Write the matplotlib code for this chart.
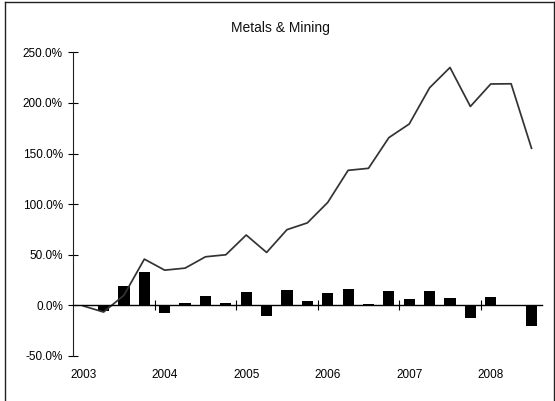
import matplotlib
matplotlib.use("Agg")
import matplotlib.pyplot as plt
import numpy as np
from matplotlib.lines import Line2D
from matplotlib.ticker import FuncFormatter, FixedLocator

plt.rcParams['font.family'] = ['Liberation Sans', 'DejaVu Sans']

# quarterly categories 2003Q1 .. 2008Q3
quarters = ["%dQ%d" % (y, q) for y in range(2003, 2009) for q in range(1, 5)][:23]

# quarterly return (bars), %
quarterly = [-1.0, -6.0, 18.9, 33.1, -7.6, 2.3, 9.3, 2.6, 13.6, -10.0, 15.2, 4.6,
             11.9, 16.2, 1.3, 13.9, 6.0, 14.0, 7.0, -12.0, 8.0, 0.6, -20.2]
# cumulative return (line), %
cumulative = [-0.5, -6.6, 10.0, 45.7, 34.8, 36.8, 48.0, 50.0, 69.5, 52.3, 74.8, 81.5,
              101.7, 133.4, 135.4, 165.7, 179.2, 215.0, 235.0, 196.5, 218.7, 218.9, 155.2]

fig = plt.figure(figsize=(5.55, 4.01), dpi=100)
ax = fig.add_axes([73 / 555, 45 / 401, 468.7 / 555, 303.7 / 401])

x = np.arange(len(quarters))
ax.bar(x, quarterly, width=0.55, color="black", zorder=2)
ax.plot(x, cumulative, color="#333333", lw=1.25, zorder=3)

ax.set_xlim(-0.5, len(quarters) - 0.5)
ax.set_ylim(-50, 250)
ax.set_yticks(np.arange(-50, 251, 50))
ax.yaxis.set_major_formatter(FuncFormatter(lambda v, p: "%.1f%%" % v))

for s in ["top", "right"]:
    ax.spines[s].set_visible(False)
ax.spines["left"].set_linewidth(0.8)
ax.spines["left"].set_color("#222222")
ax.spines["bottom"].set_position(("data", 0))
ax.spines["bottom"].set_linewidth(1.0)
ax.spines["bottom"].set_color("black")
ax.spines["bottom"].set_zorder(4)

# year labels under the first quarter of each year, tick marks between years
year_pos = [i for i, q in enumerate(quarters) if q.endswith("Q1")]
ax.set_xticks(year_pos)
ax.set_xticklabels([quarters[i][:4] for i in year_pos])
ax.xaxis.set_minor_locator(FixedLocator(np.arange(3.5, len(quarters), 4)))
ax.tick_params(axis="x", which="major", length=0, pad=45.5, labelsize=8.5)
ax.tick_params(axis="x", which="minor", length=6.5, direction="inout", width=0.8)
ax.tick_params(axis="y", length=6.5, direction="inout", width=0.8, pad=4.0, labelsize=8.5)

fig.text(280 / 555, 1 - 28 / 401, "Metals & Mining", ha="center", va="center",
         fontsize=10, color="#111111")

# frame around the chart
fig.add_artist(Line2D([4.5 / 555, 4.5 / 555], [0, 1 - 2 / 401], color="#222222", lw=1))
fig.add_artist(Line2D([4.5 / 555, 554 / 555], [1 - 2 / 401, 1 - 2 / 401], color="#222222", lw=1))
fig.add_artist(Line2D([554 / 555, 554 / 555], [0, 1 - 2 / 401], color="#222222", lw=1))

fig.savefig("out.png", dpi=100)
